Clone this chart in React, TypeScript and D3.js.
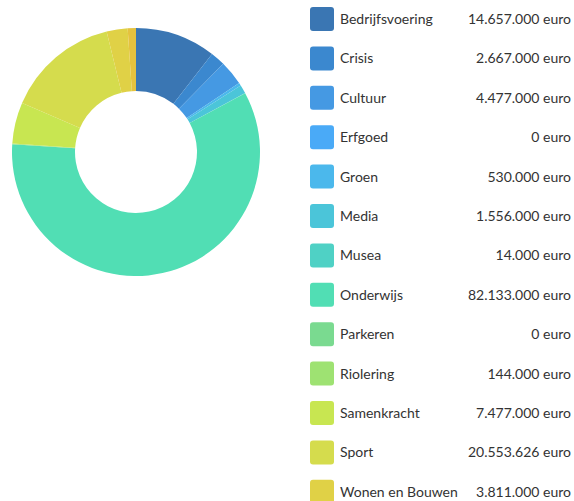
import React from "react";
import * as d3 from "d3";

const categories = [
  "Bedrijfsvoering", "Crisis", "Cultuur", "Erfgoed", "Groen", "Media", "Musea",
  "Onderwijs", "Parkeren", "Riolering", "Samenkracht", "Sport", "Wonen en Bouwen", "Zorg",
];
const values = [
  14657000, 2667000, 4477000, 0, 530000, 1556000, 14000,
  82133000, 0, 144000, 7477000, 20553626, 3811000, 1500000,
];
const colors = [
  "#3a76b3", "#3b88cf", "#4599e3", "#4aaaf7", "#4bb8ec", "#4bc5d9", "#4fd1c5",
  "#51deb4", "#7ada90", "#9ee272", "#c8e651", "#d5dc4d", "#e0d146", "#e5c23f",
];

const W = 574, H = 501;
const cx = 136, cy = 152, outerR = 124, innerR = 61;
const legendX = 310, rowTop = 19, rowStep = 39.4, valueRight = 571;

const fmt = (v: number) => d3.format(",")(v).replace(/,/g, ".") + " euro";

export default function App() {
  const data = categories.map((c, i) => ({ name: c, value: values[i], color: colors[i] }));
  const pie = d3.pie<any>().sort(null).value((d) => d.value);
  const arc = d3.arc<any>().innerRadius(innerR).outerRadius(outerR);
  const arcs = pie(data);
  const rowY = d3.scaleLinear().domain([0, 1]).range([rowTop, rowTop + rowStep]);
  return (
    <svg width={W} height={H} style={{ position: "absolute", left: 0, top: 0, display: "block" }}
      fontFamily="Lato, sans-serif">
      <g transform={`translate(${cx},${cy})`}>
        {arcs.map((a, i) => (
          <path key={i} d={arc(a) || ""} fill={a.data.color} />
        ))}
      </g>
      {data.map((d, i) => {
        const y = rowY(i);
        if (y - 12 > H) return null;
        return (
          <g key={i}>
            <rect x={legendX} y={y - 12} width={24} height={24} rx={3} fill={d.color} />
            <text x={legendX + 30} y={y} dy="0.35em" fontSize={14} fill="#333">{d.name}</text>
            <text x={valueRight} y={y} dy="0.35em" fontSize={14} fill="#333" textAnchor="end">{fmt(d.value)}</text>
          </g>
        );
      })}
    </svg>
  );
}
